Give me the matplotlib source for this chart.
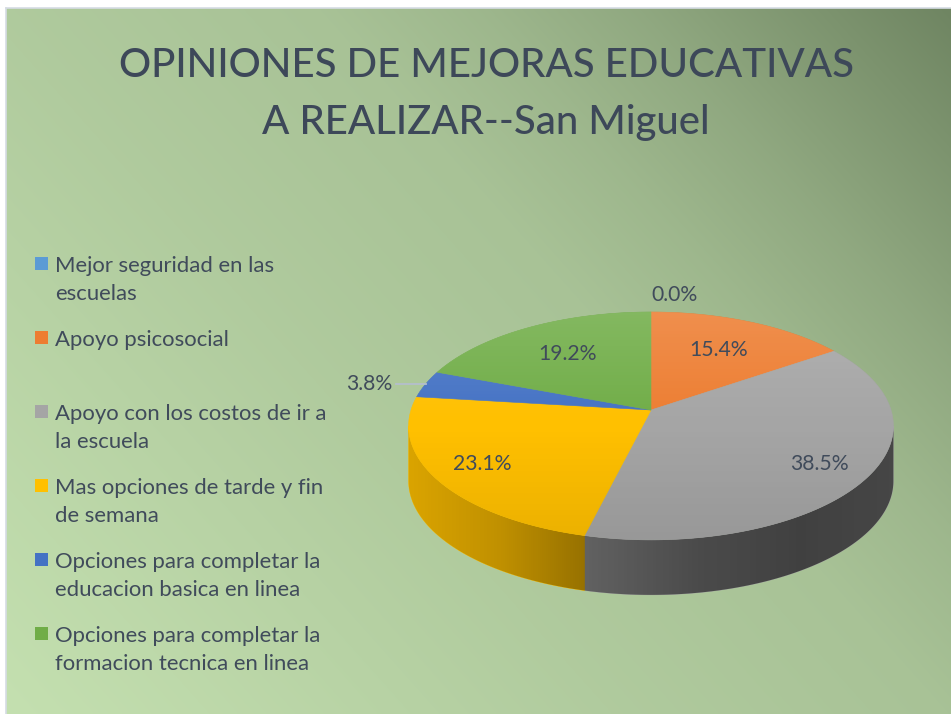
"""
3D style pie of the San Miguel survey, redrawn with matplotlib
"""
import numpy as np
import matplotlib
matplotlib.use("Agg")
import matplotlib.pyplot as plt
from matplotlib.patches import Polygon, Rectangle
from matplotlib.colors import to_rgb


#   ///////   data   ///////
title_lines   = ["OPINIONES DE MEJORAS EDUCATIVAS", "A REALIZAR--San Miguel"]
legend_labels = ["Mejor seguridad en las\nescuelas",
                 "Apoyo psicosocial",
                 "Apoyo con los costos de ir a\nla escuela",
                 "Mas opciones de tarde y fin\nde semana",
                 "Opciones para completar la\neducacion basica en linea",
                 "Opciones para completar la\nformacion tecnica en linea"]
counts        = [0, 4, 10, 6, 1, 5]
colors        = ["#5b9bd5", "#ed7d31", "#a5a5a5", "#ffc000", "#4472c4", "#70ad47"]
#   ///////     ///////

#   ///////   layout / style   ///////
W, H      = 951, 714
FONT      = "Lato"
TXT       = "#404b5b"
tilt      = 111.7/240     # vertical squash of the disc
persp     = 0.14          # far side smaller than near side
depth     = 55/240        # thickness of the disc
label_r   = [1.2, 0.66, 0.8, 0.8, 1.0, 0.66]   # radius where each % label sits
outside   = 0.05          # slices smaller than this get an outside label
#   ///////     ///////


def proj(r, th):
    """ point on the tilted disc (r, th in degrees) -> axes data coords """
    t = np.radians(th)
    s = r*np.sin(t)
    den = 1 + persp*s
    return r*np.cos(t)/den, tilt*s/den


fig = plt.figure(figsize=(W/100, H/100), dpi=100)
fig.patch.set_facecolor("white")

#   ///////   background gradient   ///////
bg = fig.add_axes([6/W, 0, 1 - 6/W, 1 - 8/H])
u = np.linspace(0, 1, 400)
v = np.linspace(1, 0, 300)
U, V = np.meshgrid(u, v)
T = 0.6*U + 0.4*V
P = np.interp(T, [0, 0.4, 0.6, 0.7, 0.8, 1.0], [0, 0.24, 0.33, 0.45, 0.61, 1.0])
c0 = np.array(to_rgb("#c4e0b0"))
c1 = np.array(to_rgb("#6f8562"))
img = c0[None, None, :] + P[..., None]*(c1 - c0)[None, None, :]
bg.imshow(img, aspect="auto", extent=[0, 1, 0, 1], interpolation="bilinear")
bg.set_xlim(0, 1)
bg.set_ylim(0, 1)
bg.set_xticks([])
bg.set_yticks([])
for side in ["right", "bottom"]:
    bg.spines[side].set_visible(False)
for side in ["top", "left"]:
    bg.spines[side].set_color("#d6dce4")
    bg.spines[side].set_linewidth(1.2)

#   ///////   pie axes (1 unit = 240 px both ways)   ///////
ax = fig.add_axes([363/W, (H - 630)/H, 576/W, 360/H])
ax.set_xlim(-1.2, 1.2)
ax.set_ylim(-220/240, 140/240)
ax.axis("off")

total = float(sum(counts))
fracs = [c/total for c in counts]
starts, ends = [], []
a = 90.0
for f in fracs:
    starts.append(a)
    a -= 360*f
    ends.append(a)

#   walls: only the front part of the rim is seen
front = (-172.0, -8.0)
for k in range(len(counts)):
    if counts[k] == 0:
        continue
    lo = max(ends[k], front[0])
    hi = min(starts[k], front[1])
    if hi <= lo:
        continue
    th = np.linspace(lo, hi, 120)
    xs, ys = proj(1.0, th)
    pts = np.vstack([np.column_stack([xs, ys]),
                     np.column_stack([xs[::-1], ys[::-1] - depth])])
    ax.add_patch(Polygon(pts, closed=True, facecolor=colors[k],
                         edgecolor=colors[k], lw=0.4, zorder=1))

th = np.linspace(front[0], front[1], 400)
xs, ys = proj(1.0, th)
wall = Polygon(np.vstack([np.column_stack([xs, ys]),
                          np.column_stack([xs[::-1], ys[::-1] - depth])]),
               closed=True, transform=ax.transData, fill=False, lw=0)
ax.add_patch(wall)
gx = np.linspace(-1.2, 1.2, 500)
shade = np.interp(gx, [-1, -0.63, -0.28, 0.2, 0.62, 1], [0.85, 0.75, 0.59, 0.45, 0.39, 0.42])
over = np.zeros((2, 500, 4))
over[..., 3] = 1 - shade
im = ax.imshow(over, extent=[-1.2, 1.2, -220/240, 140/240], aspect="auto",
               interpolation="bilinear", zorder=1.5)
im.set_clip_path(wall)

#   top faces
for k in range(len(counts)):
    if counts[k] == 0:
        continue
    th = np.linspace(ends[k], starts[k], 200)
    xs, ys = proj(1.0, th)
    pts = np.vstack([[0, 0], np.column_stack([xs, ys])])
    ax.add_patch(Polygon(pts, closed=True, facecolor=colors[k],
                         edgecolor=colors[k], lw=0.4, zorder=2))

th = np.linspace(0, 360, 400)
xs, ys = proj(1.0, th)
disc = Polygon(np.column_stack([xs, ys]), closed=True, transform=ax.transData,
               fill=False, lw=0)
ax.add_patch(disc)
gy = np.linspace(1, 0, 300)[:, None] * np.ones((1, 10))
top = np.zeros((300, 10, 4))
top[..., :3] = (gy > 0.5)[..., None]
top[..., 3] = np.where(gy > 0.5, 0.14*(2*gy - 1), 0.08*(1 - 2*gy))
yt = proj(1.0, 90)[1]
yb = proj(1.0, -90)[1]
im2 = ax.imshow(top, extent=[-1.2, 1.2, yb, yt], aspect="auto",
                interpolation="bilinear", zorder=2.5)
im2.set_clip_path(disc)

#   ///////   percentage labels   ///////
r = fig.canvas.get_renderer()
ref = ax.text(0, 0, "38.5%", fontsize=14, family=FONT)
lab_fs = 14*59/ref.get_window_extent(renderer=r).width
ref.remove()

for k in range(len(counts)):
    mid = 0.5*(starts[k] + ends[k])
    lab = "%.1f%%" % (100*fracs[k])
    x, y = proj(label_r[k], mid)
    if counts[k] == 0:
        ax.text(x, y, lab, ha="left", va="center", fontsize=lab_fs,
                family=FONT, color=TXT, zorder=5)
    elif fracs[k] < outside:
        ax.plot([x, x - 0.125], [y, y], color="#b4bfcc", lw=1.3, zorder=5)
        ax.text(x - 0.14, y, lab, ha="right", va="center", fontsize=lab_fs,
                family=FONT, color=TXT, zorder=5)
    else:
        ax.text(x, y, lab, ha="center", va="center", fontsize=lab_fs,
                family=FONT, color=TXT, zorder=5)

#   ///////   title   ///////
t1 = fig.text(486/W, 1 - 77/H, title_lines[0], ha="center", va="baseline",
              fontsize=36, family=FONT, weight=500, color="#3d4859")
tfs = 36*735/t1.get_window_extent(renderer=r).width
t1.set_fontsize(tfs)
fig.text(486/W, 1 - 134/H, title_lines[1], ha="center", va="baseline",
         fontsize=tfs, family=FONT, weight=500, color="#3d4859")

#   ///////   legend   ///////
ref = fig.text(0, 0, "Opciones para completar la", fontsize=14, family=FONT)
leg_fs = 14*267/ref.get_window_extent(renderer=r).width
ref.remove()
for i, lab in enumerate(legend_labels):
    base = 272 + 74*i
    fig.patches.append(Rectangle((35/W, 1 - (base - 2)/H), 13/W, 13/H,
                                 transform=fig.transFigure, facecolor=colors[i],
                                 edgecolor="none"))
    for j, line in enumerate(lab.split("\n")):
        fig.text(55/W, 1 - (base + 28*j)/H, line, ha="left", va="baseline",
                 fontsize=leg_fs, family=FONT, color=TXT)

fig.savefig("out.png", dpi=100)
